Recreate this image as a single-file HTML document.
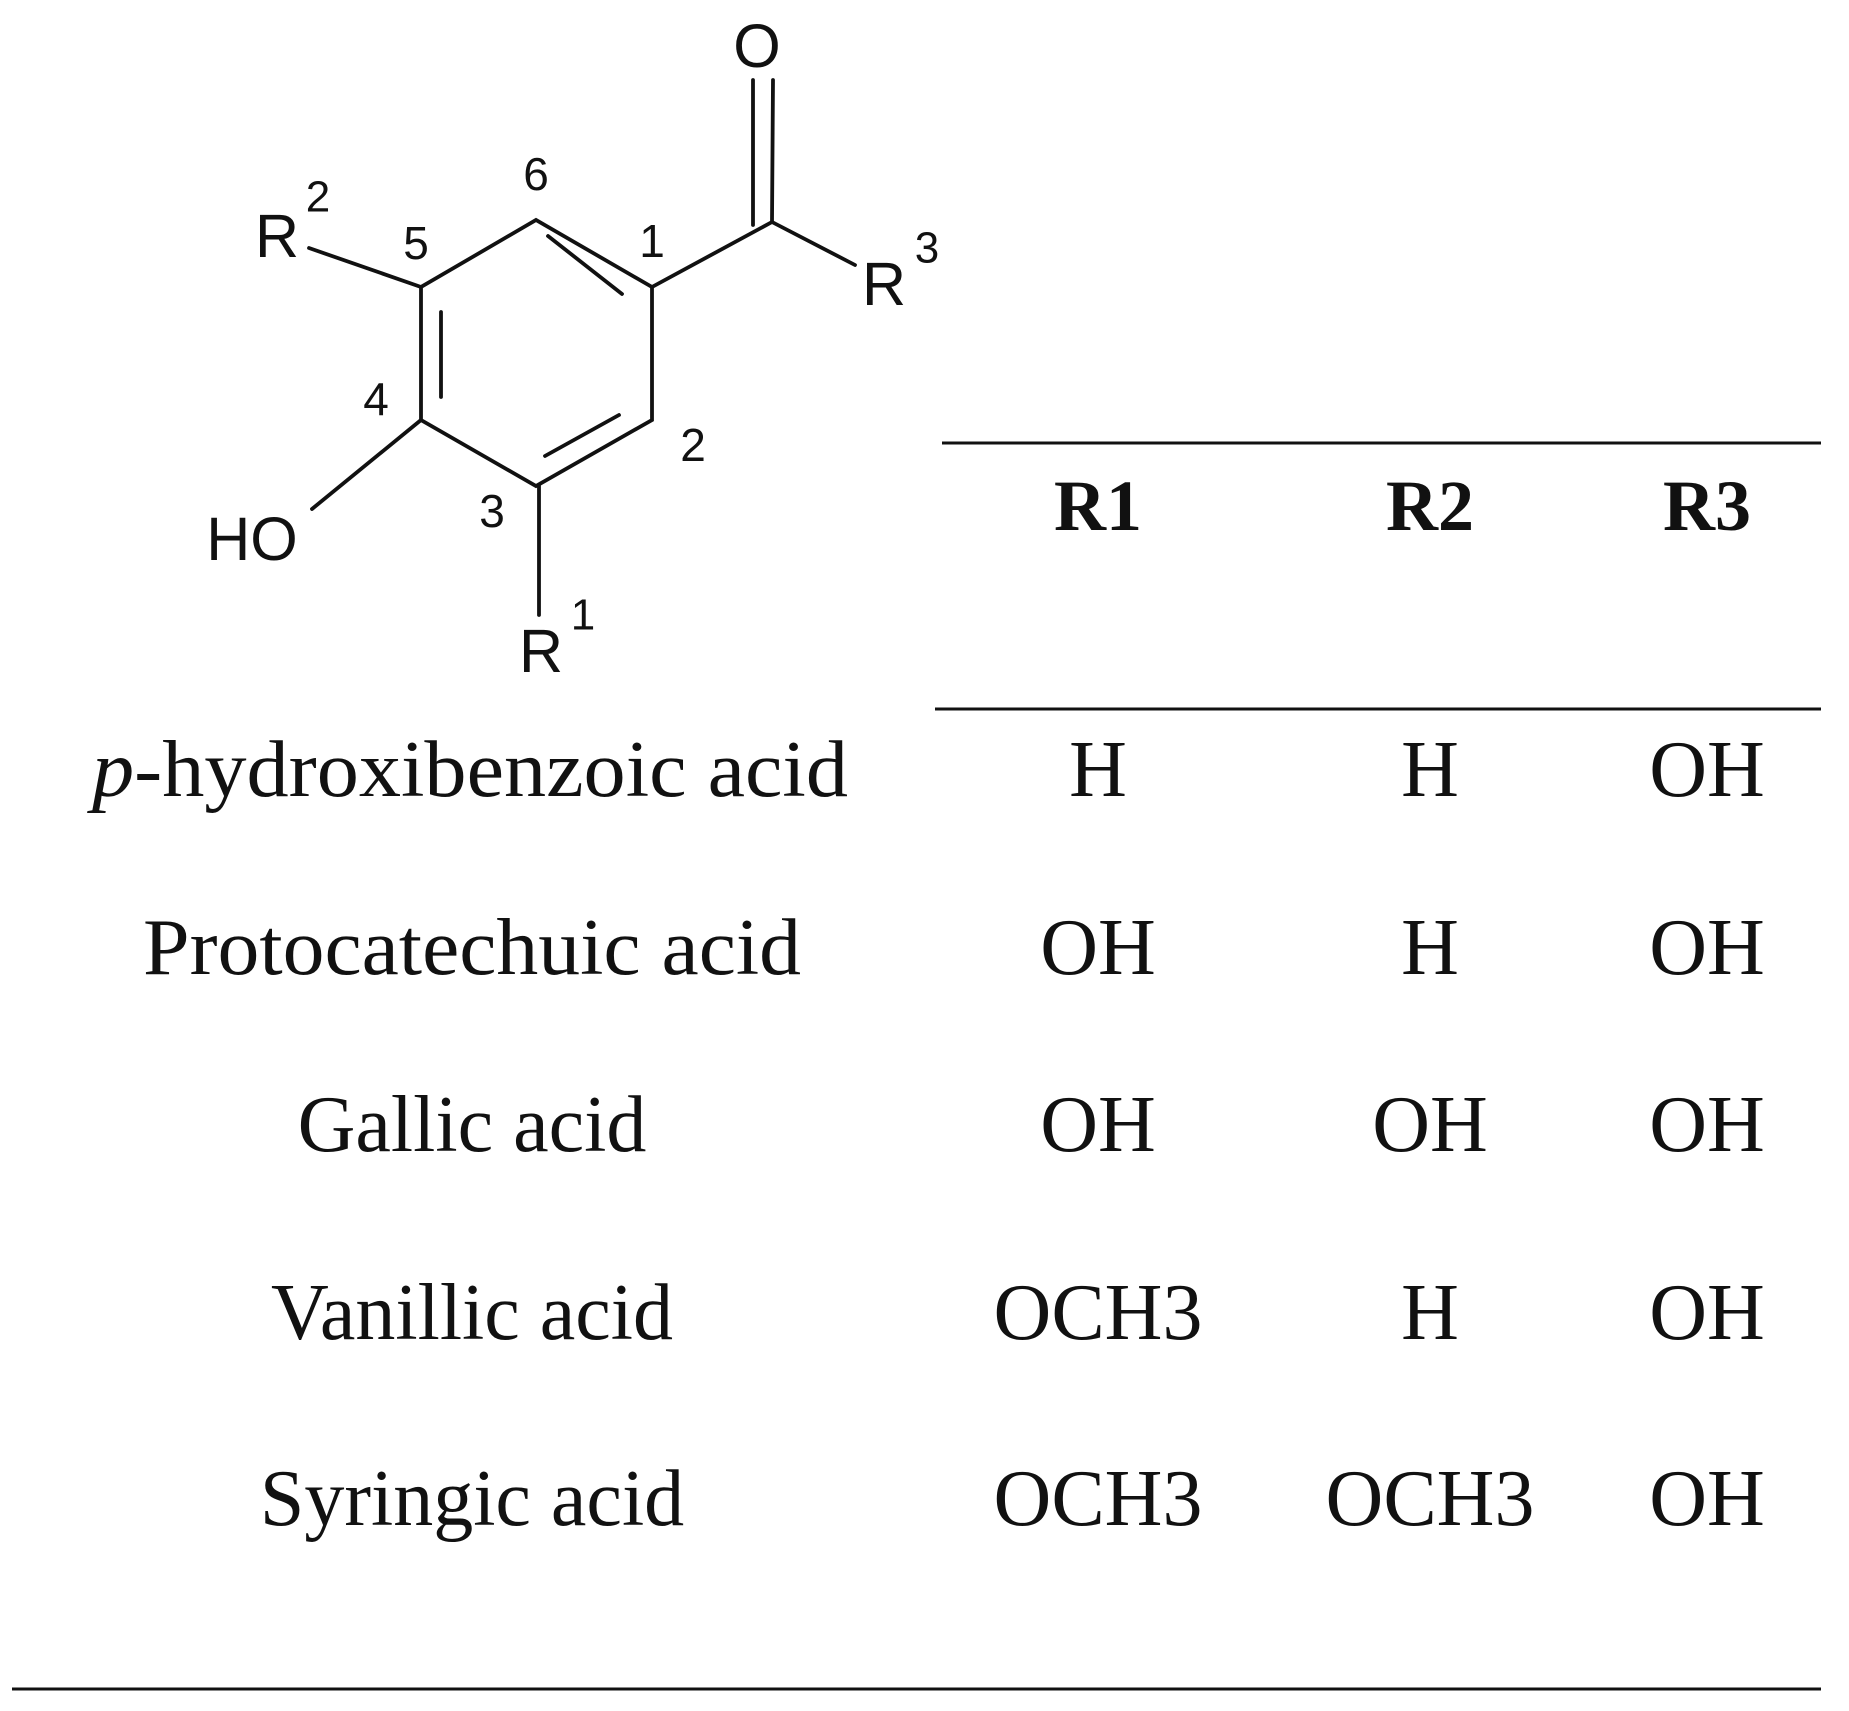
<!DOCTYPE html>
<html><head><meta charset="utf-8"><style>
html,body{margin:0;padding:0;background:#fff;}
svg{display:block;}
.a{font-family:"Liberation Sans",Arial,sans-serif;fill:#111;}
.s{font-family:"Liberation Serif","Times New Roman",serif;fill:#111;}
</style></head><body>
<svg width="1849" height="1711" viewBox="0 0 1849 1711" xmlns="http://www.w3.org/2000/svg">
<g stroke="#111" stroke-width="3.8" fill="none" stroke-linecap="round">
<polyline points="652,287 536,220 421,287 421,420 536,486 652,420 652,287"/>
<line x1="548" y1="236" x2="622" y2="294"/>
<line x1="441" y1="312" x2="441" y2="397"/>
<line x1="545" y1="456" x2="619" y2="415"/>
<line x1="652" y1="287" x2="772" y2="222"/>
<line x1="772" y1="222" x2="855" y2="265"/>
<line x1="772" y1="222" x2="773" y2="80"/>
<line x1="753" y1="225" x2="753" y2="80"/>
<line x1="421" y1="287" x2="309" y2="248"/>
<line x1="421" y1="420" x2="312" y2="509"/>
<line x1="539" y1="486" x2="539" y2="615"/>
</g>
<g class="a" text-anchor="middle" dominant-baseline="central">
<text x="757" y="46" font-size="61">O</text>
<text x="884" y="284" font-size="61">R</text>
<text x="927" y="248" font-size="44">3</text>
<text x="277" y="236" font-size="61">R</text>
<text x="318" y="197" font-size="44">2</text>
<text x="252" y="539" font-size="61">HO</text>
<text x="541" y="651" font-size="61">R</text>
<text x="583" y="615" font-size="44">1</text>
<text x="536" y="174" font-size="46">6</text>
<text x="416" y="243" font-size="46">5</text>
<text x="652" y="241" font-size="46">1</text>
<text x="376" y="399" font-size="46">4</text>
<text x="693" y="445" font-size="46">2</text>
<text x="492" y="511" font-size="46">3</text>
</g>
<g stroke="#111" stroke-width="3">
<line x1="942" y1="443" x2="1821" y2="443"/>
<line x1="935" y1="709" x2="1821" y2="709"/>
<line x1="12" y1="1689" x2="1821" y2="1689"/>
</g>
<g class="s" text-anchor="middle" font-size="72" font-weight="bold">
<text x="1098" y="530">R1</text>
<text x="1430" y="530">R2</text>
<text x="1707" y="530">R3</text>
</g>
<g class="s" text-anchor="middle" font-size="80">
<text x="470" y="796" textLength="756" lengthAdjust="spacingAndGlyphs"><tspan font-style="italic">p</tspan>-hydroxibenzoic  acid</text>
<text x="1098" y="796">H</text><text x="1430" y="796">H</text><text x="1707" y="796">OH</text>
<text x="472" y="974" textLength="658" lengthAdjust="spacingAndGlyphs">Protocatechuic acid</text>
<text x="1098" y="974">OH</text><text x="1430" y="974">H</text><text x="1707" y="974">OH</text>
<text x="472" y="1151">Gallic acid</text>
<text x="1098" y="1151">OH</text><text x="1430" y="1151">OH</text><text x="1707" y="1151">OH</text>
<text x="472" y="1339">Vanillic acid</text>
<text x="1098" y="1339">OCH3</text><text x="1430" y="1339">H</text><text x="1707" y="1339">OH</text>
<text x="472" y="1525">Syringic acid</text>
<text x="1098" y="1525">OCH3</text><text x="1430" y="1525">OCH3</text><text x="1707" y="1525">OH</text>
</g>
</svg>
</body></html>
